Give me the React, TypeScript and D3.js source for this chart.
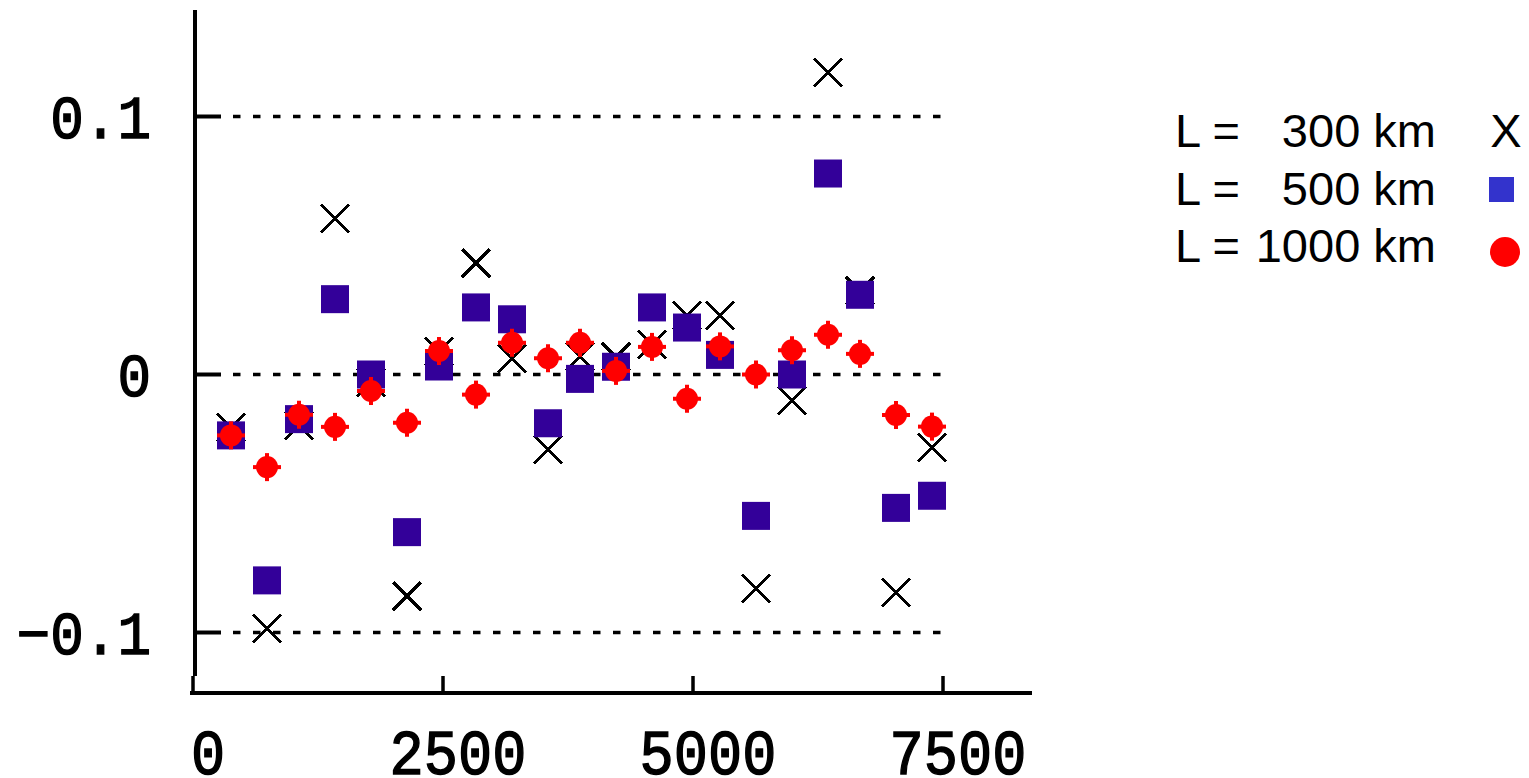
import React, { useEffect, useRef } from "react";
import * as d3 from "d3";

// distance along the track (km)
const distances = [380, 740, 1060, 1420, 1780, 2140, 2460, 2830, 3190, 3550, 3870, 4230, 4590, 4940, 5270, 5630, 5990, 6350, 6670, 7030, 7390];

// L = 300 km (crosses)
const valuesL300 = [-0.0204, -0.0984, -0.0199, 0.0605, -0.003, -0.0859, 0.0089, 0.0432, 0.0063, -0.029, 0.007, 0.0068, 0.0117, 0.0229, 0.023, -0.083, -0.0101, 0.1171, 0.0324, -0.0845, -0.0283];
// L = 500 km (squares)
const valuesL500 = [-0.0236, -0.0798, -0.0173, 0.0292, 0.0, -0.0611, 0.0031, 0.026, 0.0214, -0.0189, -0.0017, 0.003, 0.026, 0.0182, 0.0076, -0.0548, 0.0, 0.0779, 0.0309, -0.0517, -0.047];
// L = 1000 km (red dots)
const valuesL1000 = [-0.0236, -0.0359, -0.0156, -0.0203, -0.0064, -0.0187, 0.0091, -0.0078, 0.0123, 0.0063, 0.0123, 0.0014, 0.0107, -0.0094, 0.0109, 0.0, 0.0094, 0.0154, 0.008, -0.0157, -0.0202];

const xTicks = [0, 2500, 5000, 7500];
const xTickLabels = ["0", "2500", "5000", "7500"];
const yTicks = [-0.1, 0, 0.1];
const yTickLabels = ["\u22120.1", "0", "0.1"];

const legendNames = ["300 km", "500 km", "1000 km"];

const App = () => {
    const svgRef = useRef<SVGSVGElement>(null);

    useEffect(() => {
        const svg = d3.select(svgRef.current);
        svg.selectAll("*").remove();

        const x = d3.scaleLinear().domain([0, 7500]).range([193, 943]);
        const y = d3.scaleLinear().domain([-0.1, 0.1]).range([632.5, 116.5]);

        const tickFont = "'Liberation Mono', 'DejaVu Sans Mono', monospace";

        // dashed grid lines + solid tick stubs on the y axis
        yTicks.forEach((t, i) => {
            svg.append("line")
                .attr("x1", 233).attr("x2", 944)
                .attr("y1", y(t)).attr("y2", y(t))
                .attr("stroke", "#000")
                .attr("stroke-width", 3.5)
                .attr("stroke-dasharray", "7.5,12.5");
            svg.append("line")
                .attr("x1", 195).attr("x2", 221)
                .attr("y1", y(t)).attr("y2", y(t))
                .attr("stroke", "#000")
                .attr("stroke-width", 4);
            svg.append("text")
                .attr("transform", `translate(151,${y(t) + 21}) scale(1,1.08)`)
                .attr("text-anchor", "end")
                .attr("stroke", "#000")
                .attr("stroke-width", 1.3)
                .style("font-family", tickFont)
                .style("font-size", "56px")
                .text(yTickLabels[i]);
        });

        // y axis
        svg.append("line")
            .attr("x1", 195).attr("x2", 195)
            .attr("y1", 10).attr("y2", 676)
            .attr("stroke", "#000")
            .attr("stroke-width", 4);

        // x axis
        svg.append("line")
            .attr("x1", 190).attr("x2", 1032)
            .attr("y1", 693).attr("y2", 693)
            .attr("stroke", "#000")
            .attr("stroke-width", 4);

        xTicks.forEach((t, i) => {
            svg.append("line")
                .attr("x1", x(t)).attr("x2", x(t))
                .attr("y1", 676).attr("y2", 693)
                .attr("stroke", "#000")
                .attr("stroke-width", 3.5);
            svg.append("text")
                .attr("transform", `translate(${x(t) + 15},774) scale(1,1.1)`)
                .attr("text-anchor", "middle")
                .attr("stroke", "#000")
                .attr("stroke-width", 1.3)
                .style("font-family", tickFont)
                .style("font-size", "57px")
                .text(xTickLabels[i]);
        });

        // L = 300 km : crosses
        svg.append("g")
            .selectAll("path")
            .data(distances)
            .enter()
            .append("path")
            .attr("transform", (d, i) => `translate(${x(d)},${y(valuesL300[i])})`)
            .attr("d", "M-14,-14L14,14M-14,14L14,-14")
            .attr("stroke", "#000")
            .attr("stroke-width", 3)
            .attr("fill", "none")
            .attr("shape-rendering", "crispEdges");

        // L = 500 km : squares
        svg.append("g")
            .selectAll("rect")
            .data(distances)
            .enter()
            .append("rect")
            .attr("x", d => x(d) - 14)
            .attr("y", (d, i) => y(valuesL500[i]) - 14)
            .attr("width", 28)
            .attr("height", 28)
            .attr("fill", "#330099");

        // L = 1000 km : red dots
        const red = svg.append("g")
            .selectAll("g")
            .data(distances)
            .enter()
            .append("g")
            .attr("transform", (d, i) => `translate(${x(d)},${y(valuesL1000[i])})`)
            .attr("fill", "#ff0000");
        red.append("circle").attr("r", 11);
        red.append("rect").attr("x", -14).attr("y", -2).attr("width", 28).attr("height", 4);
        red.append("rect").attr("x", -2).attr("y", -14).attr("width", 4).attr("height", 28);

        // legend
        const legendFont = "'Liberation Sans', Arial, sans-serif";
        legendNames.forEach((name, i) => {
            const by = 147 + i * 57.5;
            svg.append("text")
                .attr("x", 1175).attr("y", by)
                .style("font-family", legendFont)
                .style("font-size", "47px")
                .text("L =");
            svg.append("text")
                .attr("x", 1436).attr("y", by)
                .attr("text-anchor", "end")
                .style("font-family", legendFont)
                .style("font-size", "47px")
                .text(name);
        });
        svg.append("text")
            .attr("x", 1506).attr("y", 147)
            .attr("text-anchor", "middle")
            .style("font-family", legendFont)
            .style("font-size", "47px")
            .text("X");
        svg.append("rect")
            .attr("x", 1489).attr("y", 177)
            .attr("width", 25).attr("height", 25)
            .attr("fill", "#3333cc");
        svg.append("circle")
            .attr("cx", 1505).attr("cy", 252)
            .attr("r", 15)
            .attr("fill", "#ff0000");
    }, []);

    return (
        <svg
            ref={svgRef}
            width={1529}
            height={778}
            style={{ position: "absolute", left: 0, top: 0, background: "#fff" }}
        />
    );
};

export default App;
